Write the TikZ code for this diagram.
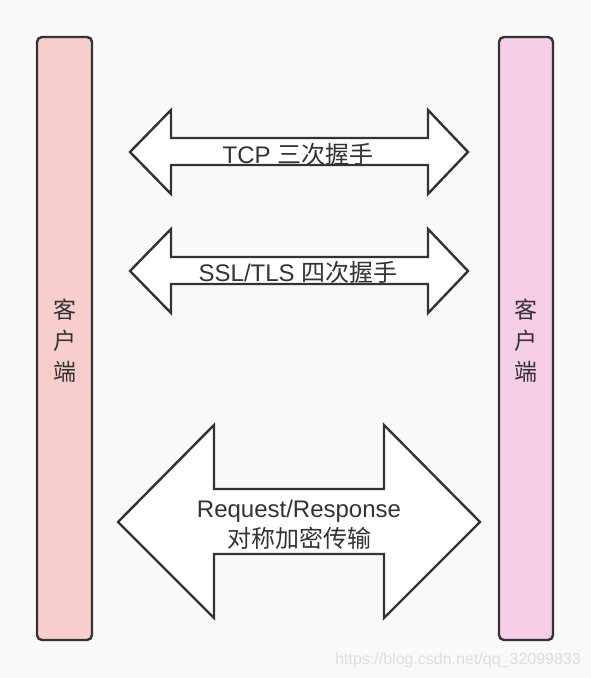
\documentclass[tikz,border=0pt]{standalone}
\usepackage{fontspec}
\setmainfont{Liberation Sans}
\newfontfamily\cjk{Noto Sans CJK SC}
\definecolor{bgc}{HTML}{F9F9F9}
\definecolor{strokec}{HTML}{333333}
\definecolor{leftfill}{HTML}{F8CECC}
\definecolor{rightfill}{HTML}{F6CDE6}
\definecolor{wmc}{HTML}{DEDEDE}
\tikzset{
  bar/.style={draw=strokec, line width=2.4pt, rounded corners=5pt},
  bigarrow/.style={draw=strokec, fill=white, line width=2.4pt, line join=miter},
  lbl/.style={text=strokec, font=\fontsize{24}{30}\selectfont, align=center, inner sep=0pt},
  vlbl/.style={text=strokec, font=\fontsize{23}{31}\cjk, align=center, inner sep=0pt},
}
\begin{document}
\begin{tikzpicture}[x=1pt,y=-1pt]
\fill[bgc] (0,0) rectangle (591,678);
\useasboundingbox (0,0) rectangle (591,678);
% bars
\draw[bar, fill=leftfill] (37,37) rectangle (92,640);
\draw[bar, fill=rightfill] (499,37) rectangle (553,640);
\node[vlbl] (client1) at (64.5,341) {客\\户\\端};
\node[vlbl] (client2) at (526,341) {客\\户\\端};
% arrow 1
\draw[bigarrow] (130,152) -- (171,110) -- (171,138) -- (428,138) -- (428,110) -- (468,152)
  -- (428,194) -- (428,165) -- (171,165) -- (171,194) -- cycle;
\node[lbl] (tcp) at (298,154) {TCP {\cjk 三次握手}};
% arrow 2
\draw[bigarrow] (130,271) -- (171,229) -- (171,257) -- (428,257) -- (428,229) -- (468,271)
  -- (428,313) -- (428,284) -- (171,284) -- (171,313) -- cycle;
\node[lbl] (ssl) at (298,272) {SSL/TLS {\cjk 四次握手}};
% arrow 3
\draw[bigarrow] (118,522) -- (214,425) -- (214,489) -- (384,489) -- (384,425) -- (480,522)
  -- (384,618) -- (384,554) -- (214,554) -- (214,618) -- cycle;
\node[lbl] (req) at (299,525) {Request/Response\\{\cjk 对称加密传输}};
% watermark
\node[text=wmc, font=\fontsize{16}{18}\selectfont, inner sep=0pt, anchor=east] (wm) at (581,660) {https://blog.csdn.net/qq\_32099833};
\end{tikzpicture}
\end{document}
